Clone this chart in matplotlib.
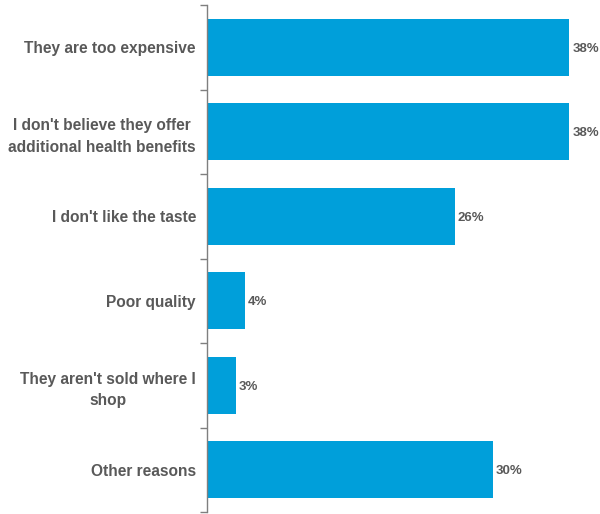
import matplotlib
matplotlib.use("Agg")
import matplotlib.pyplot as plt
import numpy as np

categories = ["They are too expensive",
              "I don't believe they offer\nadditional health benefits",
              "I don't like the taste",
              "Poor quality",
              "They aren't sold where I\nshop",
              "Other reasons"]
values = [38, 38, 26, 4, 3, 30]
value_labels = ["38%", "38%", "26%", "4%", "3%", "30%"]

plt.rcParams['font.family'] = ['Liberation Sans', 'DejaVu Sans']
fig = plt.figure(figsize=(6.0, 5.14), dpi=100)
ax = fig.add_axes([207/600, 1-512/514, 1-207/600, 507/514])

n = len(categories)
y = np.arange(n)
ax.barh(y, values, height=0.68, color='#009FDA')
ax.set_ylim(n-0.5, -0.5)
ax.set_xlim(0, 41.2)

for yi, v, lab in zip(y, values, value_labels):
    ax.text(v + 0.3, yi, lab, va='center_baseline', ha='left', fontsize=9.5,
            fontweight='bold', color='#595959')

ax.set_yticks(y)
ax.set_yticklabels(categories, fontsize=11.2, fontweight='bold', color='#595959',
                   linespacing=1.55)
ax.tick_params(axis='y', length=0, pad=8)
ax.set_yticks(np.arange(n+1) - 0.5, minor=True)
ax.tick_params(axis='y', which='minor', length=5, color='#7f7f7f', width=1)
for lbl in ax.get_yticklabels():
    lbl.set_horizontalalignment('right')
    lbl.set_multialignment('center')

ax.set_xticks([])
for s in ['top', 'right', 'bottom']:
    ax.spines[s].set_visible(False)
ax.spines['left'].set_color('#7f7f7f')
ax.spines['left'].set_linewidth(1)

fig.savefig('out.png', dpi=100)
